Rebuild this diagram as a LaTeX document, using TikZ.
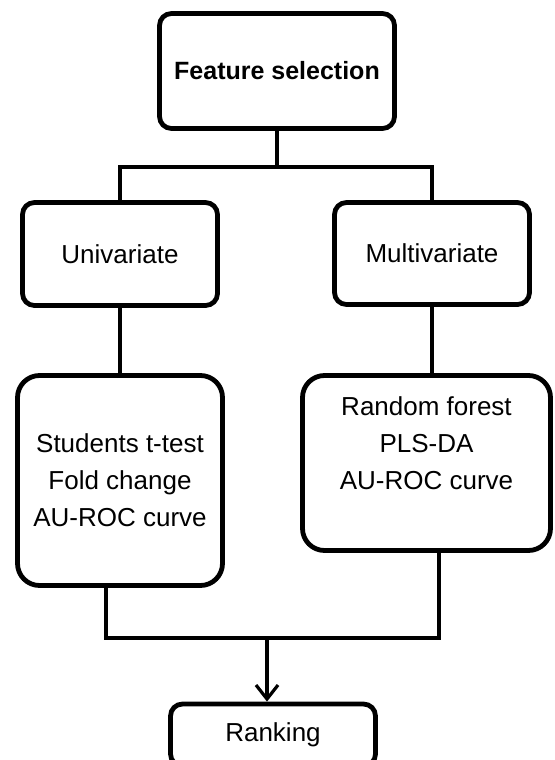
\documentclass[tikz,border=0pt]{standalone}
\usepackage{fontspec}
\setmainfont{Liberation Sans}
\usetikzlibrary{arrows.meta}
\tikzset{
  flowbox/.style={draw=black,line width=2.4pt,rounded corners=6pt,fill=white,align=center,inner sep=2pt,font=\fontsize{13}{18.5}\selectfont},
  bigbox/.style={flowbox,rounded corners=11pt},
  link/.style={line width=1.6pt},
}

\begin{document}
\begin{tikzpicture}[x=0.5pt,y=-0.5pt]
\useasboundingbox (0,0) rectangle (555,760);
% boxes
\node[flowbox,minimum width=117.5pt,minimum height=57.5pt,font=\fontsize{12.5}{15}\selectfont\bfseries] (select) at (277,71) {Feature selection};
\node[flowbox,minimum width=97.5pt,minimum height=51.5pt] (uni) at (120,254) {Univariate};
\node[flowbox,minimum width=97.5pt,minimum height=51pt] (multi) at (432,253.5) {Multivariate};
\node[bigbox,minimum width=102.5pt,minimum height=105pt] (students) at (120,480.5) {Students t-test\\Fold change\\AU-ROC curve};
\node[bigbox,minimum width=124pt,minimum height=87.5pt] (forest) at (426.5,463) {};
\node[align=center,inner sep=0pt,font=\fontsize{13}{18.5}\selectfont] (forestText) at (426.5,443) {Random forest\\PLS-DA\\AU-ROC curve};
\node[flowbox,minimum width=102.5pt,minimum height=31pt] (rank) at (273,735) {Ranking};
% connectors
\coordinate (split) at (277,167);
\coordinate (leftJoin) at (106,638);
\coordinate (merge) at (267,638);
\coordinate (rightJoin) at (439,638);
\draw[link] (select.south) -- (split);
\draw[link] (uni.north) |- (split) -| (multi.north);
\draw[link] (uni.south) -- (students.north);
\draw[link] (multi.south) -- (multi.south |- forest.north);
\draw[link] (students.south -| leftJoin) -- (leftJoin) -- (rightJoin) -- (forest.south -| rightJoin);
\draw[link,-{Straight Barb[length=7pt,width=11pt]}] (merge) -- (merge |- rank.north);
\end{tikzpicture}
\end{document}
